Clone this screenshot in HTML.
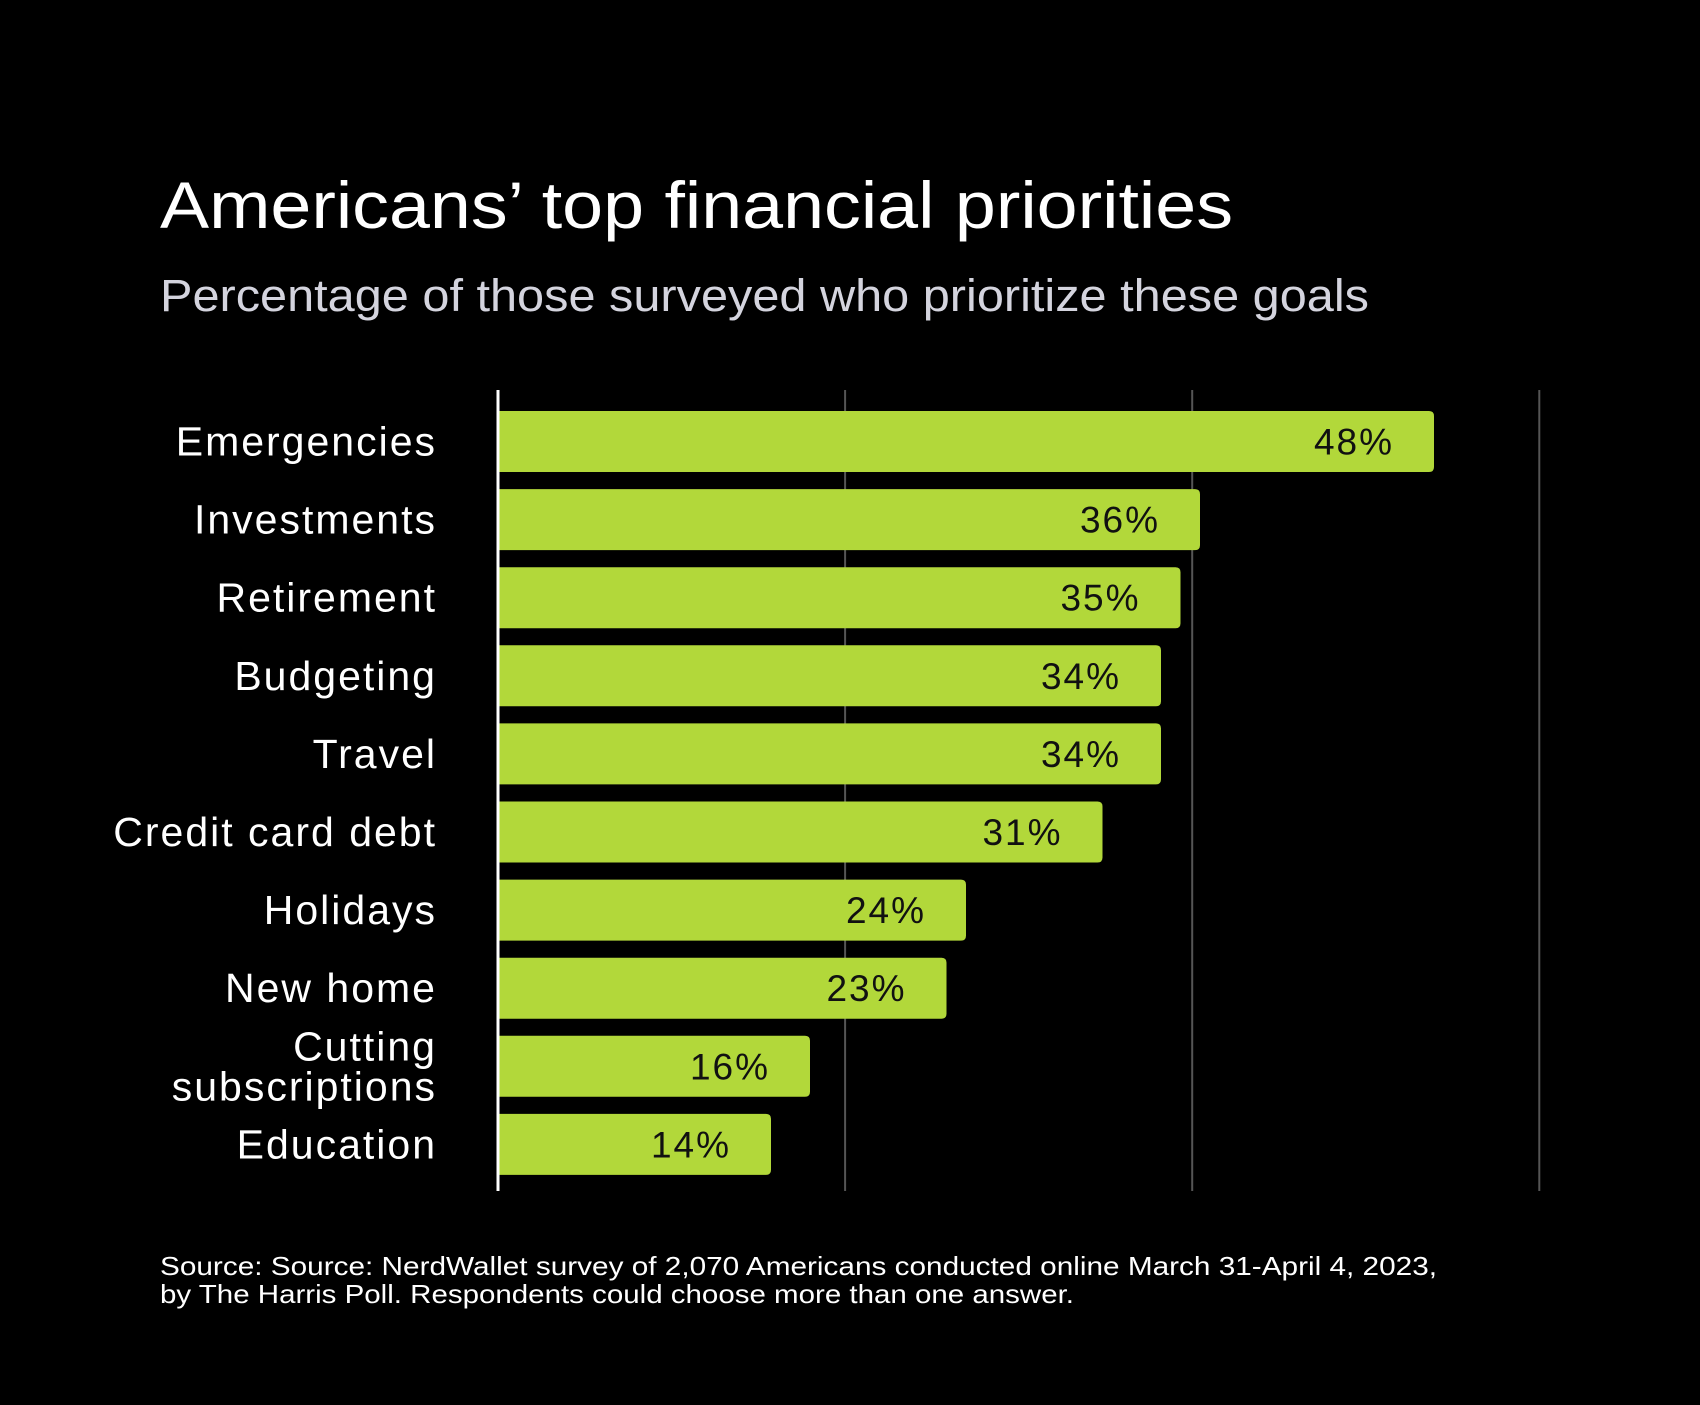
<!DOCTYPE html>
<html><head><meta charset="utf-8"><style>
html,body{margin:0;padding:0;background:#000;}
body{width:1700px;height:1400px;overflow:hidden;font-family:"Liberation Sans",sans-serif;}
svg text{font-family:"Liberation Sans",sans-serif;}
</style></head><body>
<svg width="1700" height="1400" id="chart">
<text x="160" y="228" fill="#fff" font-size="66" textLength="1073" lengthAdjust="spacingAndGlyphs">Americans’ top financial priorities</text>
<text x="160" y="311" fill="#d4d4de" font-size="45" textLength="1209" lengthAdjust="spacingAndGlyphs">Percentage of those surveyed who prioritize these goals</text>
<g id="grid"></g><g id="bars"></g>
<text x="160" y="1275" fill="#fff" font-size="26" textLength="1277" lengthAdjust="spacingAndGlyphs">Source: Source: NerdWallet survey of 2,070 Americans conducted online March 31-April 4, 2023,</text>
<text x="160" y="1303" fill="#fff" font-size="26" textLength="914" lengthAdjust="spacingAndGlyphs">by The Harris Poll. Respondents could choose more than one answer.</text>
</svg>
<script>
const categories=["Emergencies","Investments","Retirement","Budgeting","Travel","Credit card debt","Holidays","New home","Cutting|subscriptions","Education"];
const values=[48,36,35,34,34,31,24,23,16,14];
const valueLabels=["48%","36%","35%","34%","34%","31%","24%","23%","16%","14%"];
const gridValues=[17.8,35.6,53.4];
const ns="http://www.w3.org/2000/svg";
const x0=498,pxPer=19.5,top0=411,pitch=78.1,bh=61;
const xs=v=>x0+v*pxPer;
const grid=document.getElementById('grid'),bars=document.getElementById('bars');
function mk(tag,attrs,parent){const e=document.createElementNS(ns,tag);for(const k in attrs)e.setAttribute(k,attrs[k]);parent.appendChild(e);return e;}
gridValues.forEach(g=>{const l=mk('line',{x1:xs(g),x2:xs(g),y1:390,y2:1191,stroke:'#555','stroke-width':2},grid);

});
values.forEach((v,i)=>{
 const y=top0+i*pitch;
 const r=mk('path',{d:`M${x0} ${y}H${xs(v)-5}Q${xs(v)} ${y} ${xs(v)} ${y+5}V${y+bh-5}Q${xs(v)} ${y+bh} ${xs(v)-5} ${y+bh}H${x0}Z`,fill:'#b2d83a'},bars);
 
 
 const t=mk('text',{x:xs(v)-40,y:y+bh/2+13,'text-anchor':'end','font-size':37,fill:'#111','letter-spacing':2},bars);
 t.textContent=valueLabels[i];
 
 
 const parts=categories[i].split('|');
 const c=mk('text',{x:437,'text-anchor':'end','font-size':41,fill:'#fff','letter-spacing':2},bars);
 
 
 if(parts.length===1){c.setAttribute('y',y+bh/2+14);c.textContent=parts[0];}
 else{parts.forEach((p,j)=>{const s=mk('tspan',{x:437,y:y+bh/2-6+j*40},c);s.textContent=p;});}
});
const ax=mk('line',{x1:x0,x2:x0,y1:390,y2:1191,stroke:'#fff','stroke-width':3},bars);


</script>
</body></html>
